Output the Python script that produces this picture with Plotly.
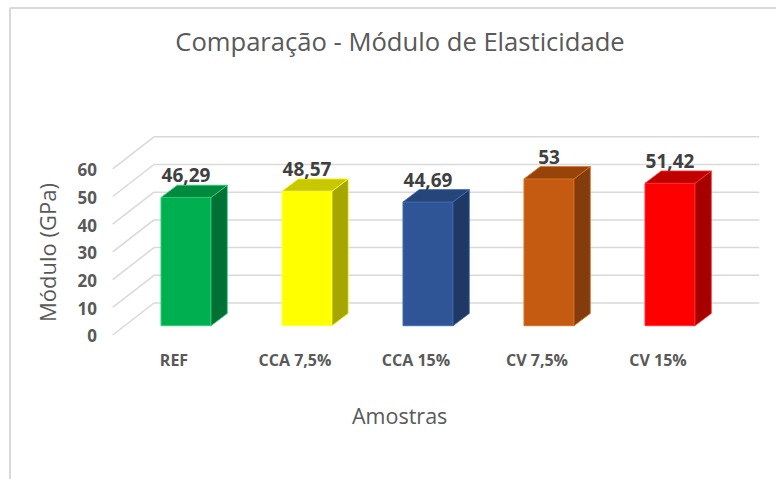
import plotly.graph_objects as go

categories = ["REF", "CCA 7,5%", "CCA 15%", "CV 7,5%", "CV 15%"]
values = [46.29, 48.57, 44.69, 53, 51.42]
value_labels = ["46,29", "48,57", "44,69", "53", "51,42"]
front_colors = ["#00B050", "#FFFF00", "#2F5597", "#C55A11", "#FF0000"]
edge_colors = ["#2FD07A", "#FFFF40", "#3F6AB5", "#DB6E22", "#FF3030"]
side_colors = ["#007034", "#A6A600", "#203864", "#843C0C", "#A60000"]
top_colors = ["#008A3E", "#C8C800", "#264679", "#964409", "#C00000"]
y_ticks = [0, 10, 20, 30, 40, 50, 60]

W, H = 776, 479
PX_X = 121.0
PX_Y = 2.77
X0_PX, Y0_PX = 186.0, 325.7
BAR_W = 50 / PX_X
BAR_DX, BAR_DY = 16.3 / PX_X, 12.3 / PX_Y
BACK_Y = 22.7 / PX_Y
FRONT_Y = -9.3 / PX_Y
LEFT_FRONT, LEFT_BACK, RIGHT = -73.3 / PX_X, -32 / PX_X, 573.3 / PX_X

fig = go.Figure()

grid_shapes = []
for t in y_ticks:
    for x0, y0, x1, y1 in [(LEFT_FRONT, t + FRONT_Y, LEFT_BACK, t + BACK_Y),
                           (LEFT_BACK, t + BACK_Y, RIGHT, t + BACK_Y)]:
        grid_shapes.append(dict(type="line", xref="x", yref="y", layer="below",
                                x0=x0, y0=y0, x1=x1, y1=y1,
                                line=dict(color="#D9D9D9", width=1.5)))

positions = list(range(len(categories)))
for i, v in zip(positions, values):
    l, r = i - BAR_W / 2, i + BAR_W / 2
    fig.add_trace(go.Scatter(
        x=[r, r + BAR_DX, r + BAR_DX, r, r], y=[0, BAR_DY, v + BAR_DY, v, 0],
        mode="lines", fill="toself", fillcolor=side_colors[i], hoverinfo="skip",
        line=dict(color=edge_colors[i], width=0.8)))
    fig.add_trace(go.Scatter(
        x=[l, l + BAR_DX, r + BAR_DX, r, l], y=[v, v + BAR_DY, v + BAR_DY, v, v],
        mode="lines", fill="toself", fillcolor=top_colors[i], hoverinfo="skip",
        line=dict(color=edge_colors[i], width=0.8)))

fig.add_trace(go.Bar(x=positions, y=values, width=BAR_W,
                     marker=dict(color=front_colors, line=dict(color=edge_colors, width=1))))

fig.add_trace(go.Scatter(
    x=positions, y=[v + 7.2 for v in values], text=value_labels, mode="text",
    textposition="middle center", hoverinfo="skip",
    textfont=dict(family="Open Sans", size=19, color="#404040", weight=700)))

fig.add_trace(go.Scatter(
    x=[-89 / PX_X] * len(y_ticks), y=[t + FRONT_Y - 1.1 for t in y_ticks],
    text=[str(t) for t in y_ticks], mode="text", textposition="middle left", hoverinfo="skip",
    textfont=dict(family="Open Sans", size=17, color="#595959", weight=700)))

fig.add_trace(go.Scatter(
    x=[i - 12 / PX_X for i in positions], y=[-36.5 / PX_Y for _ in positions],
    text=categories, mode="text", textposition="middle center", hoverinfo="skip",
    textfont=dict(family="Open Sans", size=16, color="#595959", weight=700)))

fig.update_layout(
    width=W, height=H, autosize=False, showlegend=False,
    paper_bgcolor="white", plot_bgcolor="white",
    margin=dict(l=0, r=0, t=0, b=0),
    title=dict(text="Comparação - Módulo de Elasticidade", x=400 / W, xanchor="center",
               y=1 - 42 / H, yanchor="middle",
               font=dict(family="Open Sans", size=25.6, color="#595959")),
    xaxis=dict(visible=False, range=[-X0_PX / PX_X, (W - X0_PX) / PX_X], fixedrange=True),
    yaxis=dict(visible=False, range=[-(H - Y0_PX) / PX_Y, Y0_PX / PX_Y], fixedrange=True),
    shapes=grid_shapes + [
        dict(type="line", xref="paper", yref="paper", x0=10 / W, x1=10 / W, y0=0, y1=1 - 8 / H,
             line=dict(color="#D9D9D9", width=2)),
        dict(type="line", xref="paper", yref="paper", x0=10 / W, x1=1, y0=1 - 8 / H, y1=1 - 8 / H,
             line=dict(color="#D9D9D9", width=2)),
    ],
    annotations=[
        dict(text="Módulo (GPa)", xref="paper", yref="paper", x=47 / W, y=1 - 253 / H,
             textangle=-90, showarrow=False, xanchor="center", yanchor="middle",
             font=dict(family="Open Sans", size=22, color="#595959")),
        dict(text="Amostras", xref="paper", yref="paper", x=400 / W, y=1 - 415 / H,
             showarrow=False, xanchor="center", yanchor="middle",
             font=dict(family="Open Sans", size=21.5, color="#595959")),
    ],
)

fig.write_html("out.html", config=dict(displayModeBar=False),
               post_script="document.body.style.margin='0';document.documentElement.style.overflow='hidden';")
